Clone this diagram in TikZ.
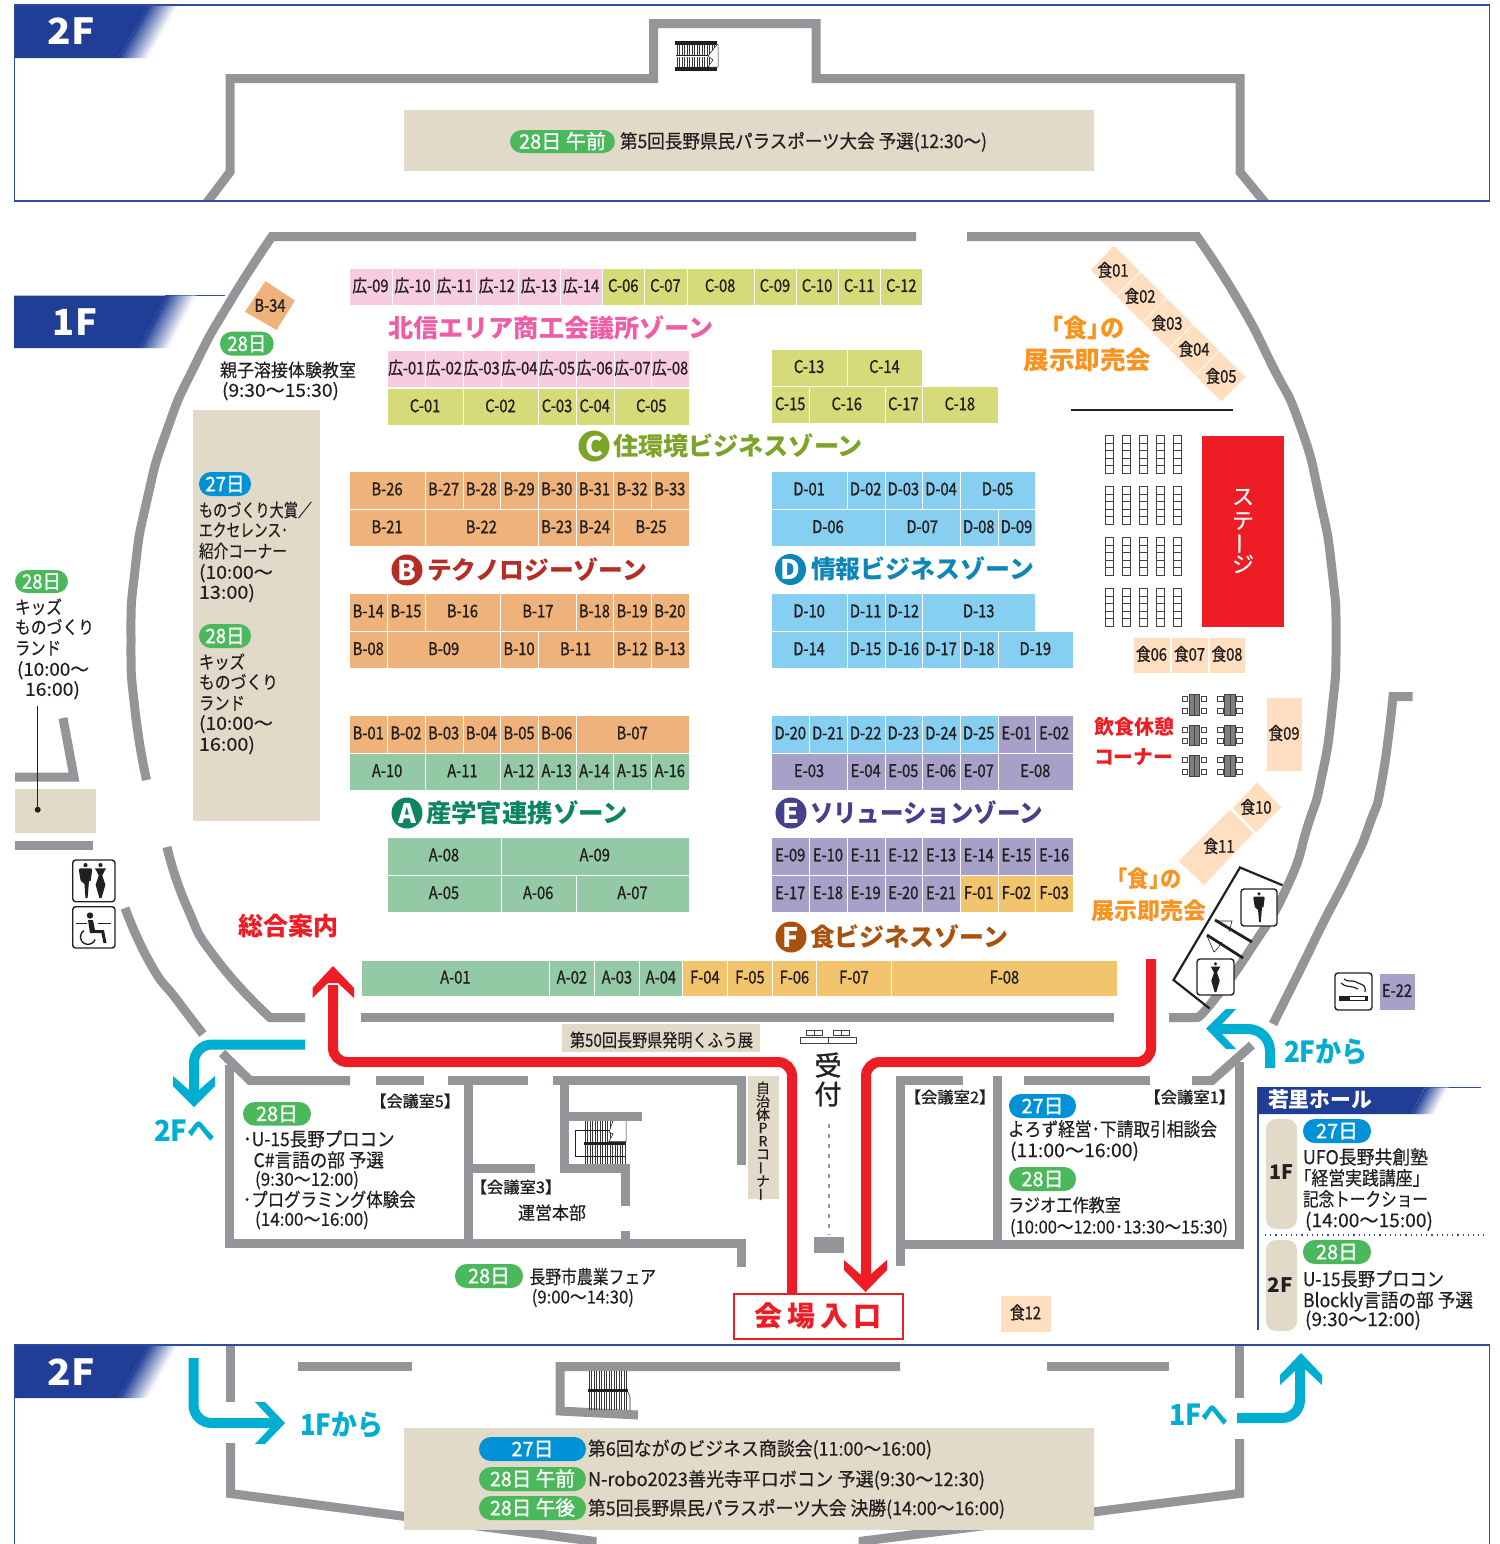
\documentclass[tikz,border=0pt]{standalone}
\usepackage{graphicx}
\usepackage{fontspec}
\setmainfont{Noto Sans CJK JP}[FakeBold=0.4]
\newfontfamily\jpm[FakeBold=1.1]{Noto Sans CJK JP}
\newfontfamily\jpr{Noto Sans CJK JP}
\newcommand\jpb{\jpr\bfseries}
\newcommand\jpz{\jpr\bfseries}
\usetikzlibrary{calc}
\definecolor{wallc}{HTML}{949599}
\definecolor{navy}{HTML}{213E97}
\definecolor{framec}{HTML}{2F4B9F}
\definecolor{redc}{HTML}{EE1C25}
\definecolor{cyanc}{HTML}{00AED1}
\definecolor{beige}{HTML}{E1DAC8}
\definecolor{cB}{HTML}{EFB27B}
\definecolor{cA}{HTML}{94C9A5}
\definecolor{cD}{HTML}{87CFF0}
\definecolor{cE}{HTML}{A7A1C9}
\definecolor{cF}{HTML}{F2C46D}
\definecolor{cC}{HTML}{D4DB78}
\definecolor{cP}{HTML}{F8CCE0}
\definecolor{cK}{HTML}{FFDFBF}
\definecolor{badgeG}{HTML}{4CB85C}
\definecolor{badgeB}{HTML}{0092D6}
\definecolor{ink}{HTML}{231F20}
\definecolor{zPink}{HTML}{EE5DA5}
\definecolor{zOrange}{HTML}{F7931E}
\definecolor{zC}{HTML}{7BA428}
\definecolor{zB}{HTML}{B52E25}
\definecolor{zD}{HTML}{0F86B8}
\definecolor{zA}{HTML}{0D8561}
\definecolor{zE}{HTML}{45408C}
\definecolor{zF}{HTML}{A9510F}
\newsavebox\fitb
\newcommand\FS[1]{\pgfmathsetmacro\szz{#1/2}\fontsize{\szz}{\szz}\selectfont}
\newcommand\fitw[2]{\sbox\fitb{#2}\pgfmathsetmacro\fsc{(#1)*0.5/\the\wd\fitb}\scalebox{\fsc}[1]{\usebox\fitb}}
% left text: x,y centre,width,size,text
\newcommand\TL[5]{\node[anchor=base west,inner sep=0pt,outer sep=0pt,text=ink] at (#1,{#2+0.36*#4+0.3}) {\fitw{#3}{\FS{#4}#5}};}
% booth rows
\tikzset{boothbox/.style={draw=white,line width=0.35pt},
  boothlab/.style={inner sep=0pt,outer sep=0pt,text=ink,font=\jpm},
  wall/.style={draw=wallc,line width=4.5pt},
  seat/.style={draw=ink!85,line width=0.45pt,fill=white},
  redline/.style={draw=redc,line width=5pt,rounded corners=7pt},
  cyanline/.style={draw=cyanc,line width=5pt,rounded corners=9pt},
  arcpts/.style={smooth,tension=1}}
\newcommand\BL[1]{\scalebox{0.84}[1]{\FS{17.5}\jpm #1}}
\newcommand\Row[6]{\xdef\curcol{0}%
 \foreach \sp/\lb in {#6}{%
  \pgfmathsetmacro\xa{#1-.2+#2*\curcol}\pgfmathsetmacro\xb{#1-.2+#2*(\curcol+\sp)}%
  \path[boothbox,fill=#5] (\xa,#3) rectangle (\xb,#4);
  \node[boothlab] at ({(\xa+\xb)/2-.4},{(#3+#4)/2-1}) {\BL{\lb}};
  \pgfmathsetmacro\tmpv{\curcol+\sp}\xdef\curcol{\tmpv}}}
\newcommand\Bx[6]{\path[boothbox,fill=#5] (#1,#2) rectangle (#3,#4);
  \node[boothlab] at ({(#1+#3)/2},{(#2+#4)/2-1}) {\BL{#6}};}
% four corner strip cell
\newcommand\Quad[8]{\path[boothbox,fill=cK] (#1,#2)--(#3,#4)--(#5,#6)--(#7,#8)--cycle;}
% badge x0,y0,x1,y1,colour,textwidth,text
\newcommand\Badge[7]{\fill[#5,rounded corners=5.9pt] (#1,#2) rectangle (#3,#4);
 \node[anchor=base,inner sep=0pt,text=white] at ({(#1+#3)/2},{(#2+#4)/2+7.2}) {\fitw{#6}{\FS{20}\jpm #7}};}
% floor tab: y top,y bot,x solid end at bottom,slant
\newcommand\Tab[4]{\fill[navy] (14,#1)--({#3+#4},#1)--(#3,#2)--(14,#2)--cycle;
 \foreach \i in {0,...,15}{\pgfmathsetmacro\mixv{100-\i*6.5}\pgfmathsetmacro\xl{#3+\i*1.9}
  \fill[navy!\mixv!white] (\xl,#2)--({\xl+#4},#1)--({\xl+#4+2.2},#1)--({\xl+2.2},#2)--cycle;}}
\newcommand\Zone[6]{\node[circle,fill=#1,inner sep=0pt,minimum size=15.5pt,text=white] at (#2,#3) {\FS{27}\jpb #4};
 \TL{#5}{#3}{#6}{25}{\textcolor{#1}{\jpz\zonetxt}}}
\newcommand\stairs[5]{\foreach \xx in {#1,#5,...,#2}{\draw[ink!90,line width=0.3pt] (\xx,#3)--(\xx,#4);}}
\newcommand\man[3]{\begin{scope}[shift={(#1,#2)},scale=#3]\fill[ink] (0,.06) circle (.06);
 \fill[ink] (-.16,.15)--(.16,.15)--(.19,.2)--(.15,.5)--(.1,.52)--(.06,1)--(0,1)--(-.03,.6)--(-.12,.52)--(-.14,.5)--(-.19,.2)--cycle;\end{scope}}
\newcommand\woman[3]{\begin{scope}[shift={(#1,#2)},scale=#3]\fill[ink] (0,.06) circle (.06);
 \fill[ink] (-.16,.15)--(.16,.15)--(.05,.35)--(.14,.62)--(.03,1)--(-.03,1)--(-.14,.62)--(-.05,.35)--cycle;\end{scope}}
\newcommand\iconbox[4]{\path[draw=ink,line width=.7pt,fill=white,rounded corners=1.5pt] (#1,#2) rectangle (#3,#4);}
\begin{document}
\begin{tikzpicture}[x=0.5pt,y=-0.5pt]
\useasboundingbox (0,0) rectangle (1500,1544);
\fill[white] (0,0) rectangle (1500,1544);
% ---------- top 2F
\begin{scope}
\clip (14,5) rectangle (1490,201);
\draw[wall] (205,205)--(230,172)--(230,78.5)--(653.5,78.5)--(653.5,23.5)--(816,23.5)--(816,78.5)--(1240,78.5)--(1240,172)--(1267,205);
\end{scope}
\Tab{5}{58}{118}{30}
\draw[framec,line width=.75pt] (14.4,5) rectangle (1489.7,200.8);
\node[inner sep=0pt,text=white] at (71,31) {\fitw{47}{\FS{36}\jpz 2F}};
\fill[beige] (404,110) rectangle (1094,171);
\Badge{510}{130}{615}{153}{badgeG}{87}{28日 午前}
\TL{620}{141}{367}{19}{第5回長野県民パラスポーツ大会 予選(12:30〜)}
% stairs top
\stairs{677}{716}{44}{55}{679.5}
\stairs{677}{716}{57}{67}{679.5}
\fill[ink] (675,41) rectangle (717,44.5);\fill[ink] (675,67) rectangle (717,70.5);
\draw[ink,line width=.4pt] (676,55.5)--(712,55.5);
\path[fill=white,draw=ink,line width=.25pt] (717,44.5)--(708,56)--(713,60)--(708,67)--(718,67)--(718,44.5)--cycle;
% ---------- 1F hall walls
\draw[wall] (916,236.5)--(272,236.5)--plot[arcpts] coordinates {(272,236.5)(231,300)(195,365)(167,430)(147,500)(135,570)(131,640)(135,710)(146.5,780)};
\draw[wall] (967,236.5)--(1197,236.5)--plot[arcpts] coordinates {(1197,236.5)(1238,300)(1272,365)(1300,425)(1320,500)(1332,570)(1336,640)(1332,710)(1321,780)(1308,825)(1287,887)(1250,950)(1213,1001)(1197,1017.5)}--(1169,1017.5);
\draw[wall] plot[arcpts] coordinates {(167,847)(187,907)(217,960)(270,1017.5)}--(305,1017.5);
\draw[wall] (361,1017.5)--(1114,1017.5);
% outer right wall
\draw[wall] (1412.5,696.5)--(1393,696.5)--plot[arcpts] coordinates {(1393,696.5)(1382,780)(1370,823)(1350,870)(1323,923)(1302,966)(1273,1024)};
% outer left walls
\draw[wall] (15,777)--(74,777)--(63,718);
\draw[wall] (15,845.5)--(93,845.5);
\draw[wall] plot[arcpts] coordinates {(125,908)(150,963)(177,1000)(203,1034)};
\fill[beige] (15,789) rectangle (96,833);
\draw[ink,line width=.5pt] (37.7,706)--(37.7,809.7);
\fill[ink] (37.7,809.7) circle (3);
% tab 1F
\draw[framec,line width=.75pt] (165,295.5)--(225,295.5);
\Tab{295.5}{348}{139}{27}
\node[inner sep=0pt,text=white] at (75,322) {\fitw{44}{\FS{36}\jpz 1F}};
% pink / C top rows
\Row{350}{42.13}{268}{305}{cP}{1/広-09,1/広-10,1/広-11,1/広-12,1/広-13,1/広-14}
\Row{602.8}{42.13}{268}{305}{cC}{1/C-06,1/C-07,1.6/C-08,1/C-09,1/C-10,1/C-11,1/C-12}
\Row{388}{37.7}{350}{387.5}{cP}{1/広-01,1/広-02,1/広-03,1/広-04,1/広-05,1/広-06,1/広-07,1/広-08}
\Row{388}{37.7}{388}{425.5}{cC}{2/C-01,2/C-02,1/C-03,1/C-04,2/C-05}
\Row{772}{37.7}{349}{386}{cC}{2/C-13,2/C-14}
\Row{772}{37.7}{386}{423.5}{cC}{1/C-15,2/C-16,1/C-17,2/C-18}
% B / A
\Row{350}{37.7}{471}{509}{cB}{2/B-26,1/B-27,1/B-28,1/B-29,1/B-30,1/B-31,1/B-32,1/B-33}
\Row{350}{37.7}{509}{546.5}{cB}{2/B-21,3/B-22,1/B-23,1/B-24,2/B-25}
\Row{350}{37.7}{593}{631}{cB}{1/B-14,1/B-15,2/B-16,2/B-17,1/B-18,1/B-19,1/B-20}
\Row{350}{37.7}{631}{668.5}{cB}{1/B-08,3/B-09,1/B-10,2/B-11,1/B-12,1/B-13}
\Row{350}{37.7}{715}{753}{cB}{1/B-01,1/B-02,1/B-03,1/B-04,1/B-05,1/B-06,3/B-07}
\Row{350}{37.7}{753}{790.5}{cA}{2/A-10,2/A-11,1/A-12,1/A-13,1/A-14,1/A-15,1/A-16}
\Row{388}{37.7}{837}{875}{cA}{3/A-08,5/A-09}
\Row{388}{37.7}{875}{912.5}{cA}{3/A-05,2/A-06,3/A-07}
% D / E / F
\Row{772}{37.7}{471}{509}{cD}{2/D-01,1/D-02,1/D-03,1/D-04,2/D-05}
\Row{772}{37.7}{509}{546.5}{cD}{3/D-06,2/D-07,1/D-08,1/D-09}
\Row{772}{37.7}{593}{631}{cD}{2/D-10,1/D-11,1/D-12,3/D-13}
\Row{772}{37.7}{631}{668.5}{cD}{2/D-14,1/D-15,1/D-16,1/D-17,1/D-18,2/D-19}
\Row{772}{37.7}{715}{753}{cD}{1/D-20,1/D-21,1/D-22,1/D-23,1/D-24,1/D-25}
\Row{998.2}{37.7}{715}{753}{cE}{1/E-01,1/E-02}
\Row{772}{37.7}{753}{790.5}{cE}{2/E-03,1/E-04,1/E-05,1/E-06,1/E-07,2/E-08}
\Row{772}{37.7}{837}{875}{cE}{1/E-09,1/E-10,1/E-11,1/E-12,1/E-13,1/E-14,1/E-15,1/E-16}
\Row{772}{37.7}{875}{912.5}{cE}{1/E-17,1/E-18,1/E-19,1/E-20,1/E-21}
\Row{960.5}{37.7}{875}{912.5}{cF}{1/F-01,1/F-02,1/F-03}
\Row{362}{1}{960}{996.5}{cA}{188/A-01,45/A-02,45/A-03,43/A-04}
\Row{683}{1}{960}{996.5}{cF}{45/F-04,45/F-05,44/F-06,75/F-07,226/F-08}
% B-34
\path[fill=cB] (265.5,281)--(295,300.7)--(276.5,330)--(245,311.7)--cycle;
\node[boothlab] at (270,305.5) {\BL{B-34}};
% food strip
\foreach \i/\lx/\ly/\lb in {0/1113/270/食01,1/1140/296/食02,2/1167/323/食03,3/1194/349/食04,4/1221/376/食05}{
 \pgfmathsetmacro\ta{\i/5}\pgfmathsetmacro\tb{(\i+1)/5}
 \path[boothbox,fill=cK] ($(1114,245)!\ta!(1246,377)$)--($(1114,245)!\tb!(1246,377)$)--($(1090,270)!\tb!(1221,402)$)--($(1090,270)!\ta!(1221,402)$)--cycle;
 \node[boothlab] at (\lx,\ly) {\BL{\lb}};}
\Quad{1257}{782}{1282}{807}{1256}{833}{1232}{808}
\Quad{1230}{809}{1254}{833}{1204}{886}{1178}{861}
\node[boothlab] at (1256,807) {\BL{食10}};
\node[boothlab] at (1219,846) {\BL{食11}};
\Bx{1133}{637}{1170}{673}{cK}{食06}
\Bx{1171}{637}{1208}{673}{cK}{食07}
\Bx{1209}{637}{1245}{673}{cK}{食08}
\Bx{1266}{697}{1302}{771}{cK}{食09}
\Bx{1000}{1295}{1051}{1332}{cK}{食12}
\Bx{1379}{973}{1415}{1010}{cE}{E-22}
% zone titles
\def\zonetxt{テクノロジーゾーン}\Zone{zB}{407}{570}{B}{427}{220}
\def\zonetxt{情報ビジネスゾーン}\Zone{zD}{790.5}{569.5}{D}{811}{223}
\def\zonetxt{住環境ビジネスゾーン}\Zone{zC}{594}{446}{C}{613}{250}
\def\zonetxt{産学官連携ゾーン}\Zone{zA}{407}{813}{A}{426}{202}
\def\zonetxt{ソリューションゾーン}\Zone{zE}{791}{813}{E}{810}{233}
\def\zonetxt{食ビジネスゾーン}\Zone{zF}{791}{937}{F}{810}{198}
\TL{388.5}{328}{325}{25}{\textcolor{zPink}{\jpz 北信エリア商工会議所ゾーン}}
\TL{1050}{328.5}{75}{25}{\textcolor{zOrange}{\jpz\hspace{-.45em}「食」\hspace{-.45em}の}}
\TL{1023.5}{360.5}{128}{25}{\textcolor{zOrange}{\jpz 展示即売会}}
\TL{1116}{878.5}{66}{23}{\textcolor{zOrange}{\jpz\hspace{-.45em}「食」\hspace{-.45em}の}}
\TL{1091.5}{910.5}{115}{23}{\textcolor{zOrange}{\jpz 展示即売会}}
\TL{1094}{726.5}{80}{20}{\textcolor{redc}{\jpb 飲食休憩}}
\TL{1094}{756.5}{79}{20}{\textcolor{redc}{\jpb コーナー}}
\TL{238}{926.5}{100}{25}{\textcolor{redc}{\jpb 総合案内}}
% stage area
\draw[ink,line width=1pt] (1071,410)--(1233,410);
\foreach \xx in {1105,1122.2,1139.2,1156.2,1173.2}{\foreach \yy in {435.5,486.5,537.5,588.5}{\foreach \k in {0,...,4}{
 \path[seat] (\xx,{\yy+\k*7.6}) rectangle ({\xx+8.3},{\yy+\k*7.6+7.6});}}}
\fill[redc] (1202,436) rectangle (1284,627);
\foreach \c/\yy/\rr in {ス/497/0,テ/521/0,ー/543.5/90,ジ/564/0}{
 \node[inner sep=0pt,text=white,rotate=\rr] at (1243,\yy) {\FS{22}\c};}
% tables
\foreach \xx in {0,35.7}{\foreach \yy in {0,30.5,60.7}{
 \path[draw=ink!85,line width=.4pt,fill=wallc!85!black] ({1189+\xx},{694.7+\yy}) rectangle ({1199.7+\xx},{715.3+\yy});
 \draw[ink!85,line width=.4pt] ({1194.4+\xx},{694.7+\yy})--({1194.4+\xx},{715.3+\yy});
 \foreach \cy in {696.7,708.3}{
 \path[seat] ({1182+\xx},{\cy+\yy}) rectangle ({1187.7+\xx},{\cy+\yy+5});
 \path[seat] ({1201+\xx},{\cy+\yy}) rectangle ({1206.7+\xx},{\cy+\yy+5});}}}
% right restroom
\draw[ink,line width=1.1pt,line cap=round] (1282,885)--(1240,867.5)--(1173.5,980)--(1209,1008);
\draw[ink,line width=1.4pt] (1215,920)--(1252,942);
\draw[ink,line width=1.4pt] (1207,935)--(1243,958);
\draw[ink,line width=.3pt] (1217,921)--(1232,921)--(1229,932);
\draw[ink,line width=.3pt] (1207,936)--(1214,952) .. controls (1217,950) and (1220,945) .. (1222,942);
\iconbox{1241}{889}{1277}{926}
\man{1259}{892}{30}
\iconbox{1197}{959}{1234}{995}
\woman{1215.5}{962}{30}
% left icons
\iconbox{72.7}{860}{115}{901.7}
\man{85.5}{863}{35}
\woman{100.5}{863}{35}
\iconbox{72.7}{906.7}{115}{948}
\fill[ink] (90,915.5) circle (3.2);
\draw[ink,line width=.5pt] (76,923.5)--(87,923.5) (98,923.5)--(111,923.5);
\fill[ink] (88,920)--(93,920)--(95,930)--(104,930)--(106.5,943)--(103.5,943)--(101.5,933)--(90,933)--cycle;
\draw[ink,line width=.7pt] (84,930.5) arc[start angle=238,end angle=20,radius=7.5];
% smoking
\iconbox{1335}{973}{1372}{1010}
\fill[ink] (1339,996) rectangle (1349,1000.5);
\draw[ink,line width=.4pt] (1349,996) rectangle (1365,1000.5);
\fill[ink] (1366,996) rectangle (1367.5,1000.5);
\draw[ink,line width=.6pt] (1344,979) .. controls (1348,983) and (1354,979) .. (1358,983) .. controls (1363,985) and (1366,985) .. (1365,992);
\draw[ink,line width=.6pt] (1341,983) .. controls (1345,988) and (1352,985) .. (1358,989);
% stairs and rooms lower left
\draw[wall] (222,1053)--(250,1080.5)--(350,1080.5);
\draw[wall] (229.5,1065)--(229.5,1243.5)--(741.5,1243.5)--(741.5,1267);
\draw[wall] (375.5,1080.5)--(423.6,1080.5);
\draw[wall] (448,1080.5)--(527.7,1080.5);
\draw[wall] (553,1080.5)--(741.5,1080.5)--(741.5,1165);
\draw[wall] (468.5,1080.5)--(468.5,1243.5);
\draw[wall] (468.5,1168.5)--(535,1168.5);
\draw[wall] (564,1080.5)--(564,1168.5)--(625.5,1168.5)--(625.5,1205.7);
\draw[wall] (625.5,1231)--(625.5,1243.5);
\draw[wall] (564,1116)--(641.5,1116);
\stairs{585}{625}{1121}{1164}{587.5}
\path[fill=white,draw=ink,line width=.25pt] (613,1121)--(609,1132)--(613,1134)--(609,1141.5)--(626,1141.5)--(626,1121);
\fill[ink] (584,1141.5) rectangle (625,1145);
\draw[ink,line width=.4pt] (609,1130)--(575,1130)--(575,1156)--(625,1156);
% right rooms
\draw[wall] (963,1080.5)--(900.5,1080.5)--(900.5,1265.7);
\draw[wall] (900.5,1244)--(1239.5,1244)--(1239.5,1062);
\draw[wall] (997,1076)--(997,1244);
\draw[wall] (1024,1080.5)--(1150,1080.5);
\draw[wall] (1192,1080.5)--(1212,1080.5)--(1252,1045);
% red routes
\draw[redline] (792,1294)--(792,1062)--(333,1062)--(333,985);
\fill[redc] (333,966)--(354,988)--(354,998)--(338,983)--(328,983)--(312.5,998)--(312.5,988)--cycle;
\draw[redline] (1151,959)--(1151,1062)--(866,1062)--(866,1275);
\fill[redc] (865.5,1292)--(844,1270)--(844,1260)--(860,1274)--(871,1274)--(887,1260)--(887,1270)--cycle;
\path[draw=redc,line width=1pt,fill=white] (734,1294) rectangle (903,1339);
\node[inner sep=0pt,text=redc] at (818,1316) {\FS{28}\jpb 会\hspace{2.5pt}場\hspace{2.5pt}入\hspace{2.5pt}口};
% cyan routes
\draw[cyanline] (305,1044.5)--(194,1044.5)--(194,1092);
\fill[cyanc] (194,1107)--(173,1086)--(173,1076)--(189,1090)--(199,1090)--(215,1076)--(215,1086)--cycle;
\TL{154}{1131}{61}{29}{\textcolor{cyanc}{\jpb 2Fへ}}
\draw[cyanline,rounded corners=11pt] (1270,1068)--(1270,1029)--(1220,1029);
\fill[cyanc] (1206,1028.5)--(1226,1009)--(1236,1009)--(1222,1024)--(1222,1034)--(1236,1049)--(1226,1049)--cycle;
\TL{1284}{1052}{84}{29}{\textcolor{cyanc}{\jpb 2Fから}}
% hall beige and text
\fill[beige] (193,410) rectangle (320,821);
\Badge{199}{472}{251}{496}{badgeB}{39}{27日}
\TL{199}{510}{113}{18}{ものづくり大賞／}
\TL{199}{530}{89}{18}{エクセレンス･}
\TL{199}{551}{88}{18}{紹介コーナー}
\TL{199}{572}{74}{18}{(10:00〜}
\TL{199}{592}{56}{18}{13:00)}
\Badge{199}{624}{251}{648}{badgeG}{39}{28日}
\TL{199}{662}{46}{18}{キッズ}
\TL{199}{682}{79}{18}{ものづくり}
\TL{199}{703}{46}{18}{ランド}
\TL{199}{723}{74}{18}{(10:00〜}
\TL{199}{744}{56}{18}{16:00)}
\Badge{15}{570}{68}{593}{badgeG}{39}{28日}
\TL{15}{607}{47}{18}{キッズ}
\TL{15}{627}{79}{18}{ものづくり}
\TL{15}{648}{46}{18}{ランド}
\TL{17}{669}{72}{18}{(10:00〜}
\TL{25}{689}{55}{18}{16:00)}
\Badge{220}{331.7}{273.7}{355.7}{badgeG}{39}{28日}
\TL{220}{370}{136}{18}{親子溶接体験教室}
\TL{222}{390}{117}{18}{(9:30〜15:30)}
% exhibit strip
\fill[beige] (562,1024) rectangle (759.5,1052);
\TL{570}{1040}{183}{18}{第50回長野県発明くふう展}
\fill[beige] (748,1076) rectangle (778.5,1199);
\foreach \c/\rr [count=\i from 0] in {自/0,治/0,体/0,P/0,R/0,コ/0,ー/90,ナ/0,ー/90}{
 \node[inner sep=0pt,text=ink,rotate=\rr] at (763,{1088+13.3*\i}) {\FS{14}\c};}
% reception
\node[inner sep=0pt,text=ink] at (828,1065) {\FS{27}\jpm 受};
\node[inner sep=0pt,text=ink] at (828,1094) {\FS{27}\jpm 付};
\foreach \xx in {806.5,833.5}{\path[seat] (\xx,1030) rectangle ({\xx+8},1035);\path[seat] ({\xx+8},1030) rectangle ({\xx+16},1035);}
\path[seat] (800.5,1037) rectangle (828,1043);\path[seat] (828,1037) rectangle (856,1043);
\draw[wallc,line width=1pt,dash pattern=on 2.2pt off 2.8pt] (828.5,1124)--(828.5,1235);
\fill[wallc] (813.5,1237) rectangle (844,1253);
% room labels
\TL{377.7}{1101}{75}{16}{\jpm\hspace{-.45em}【会議室5】\hspace{-.45em}}
\TL{478}{1187}{76}{16}{\jpm\hspace{-.45em}【会議室3】\hspace{-.45em}}
\TL{912}{1097}{76}{16}{\jpm\hspace{-.45em}【会議室2】\hspace{-.45em}}
\TL{1151.7}{1097}{76}{16}{\jpm\hspace{-.45em}【会議室1】\hspace{-.45em}}
\Badge{243}{1102}{311}{1125.6}{badgeG}{42}{28日}
\TL{243}{1139}{151.6}{19}{･U-15長野プロコン}
\TL{253.6}{1160}{130.4}{19}{C\#言語の部 予選}
\TL{255}{1179}{104}{18}{(9:30〜12:00)}
\TL{243}{1199.5}{172.6}{19}{･プログラミング体験会}
\TL{255}{1219}{114}{18}{(14:00〜16:00)}
\TL{518}{1212.7}{68}{18}{運営本部}
\Badge{455}{1264}{523}{1288}{badgeG}{42}{28日}
\TL{529.5}{1276.7}{126.5}{19}{長野市農業フェア}
\TL{531.7}{1296.7}{102.3}{18}{(9:00〜14:30)}
\Badge{1009}{1094}{1076}{1118}{badgeB}{42}{27日}
\TL{1008}{1129}{209}{19}{よろず経営･下請取引相談会}
\TL{1010}{1150}{129}{19}{(11:00〜16:00)}
\Badge{1009}{1167}{1076}{1191}{badgeG}{42}{28日}
\TL{1008}{1205}{113}{18}{ラジオ工作教室}
\TL{1010}{1226.7}{218}{18}{(10:00〜12:00･13:30〜15:30)}
% wakasato hall
\draw[framec,line width=.75pt] (1258,1330)--(1258,1087.3)--(1481,1087.3);
\fill[navy] (1258,1087)--(1425,1087)--(1411,1114)--(1258,1114)--cycle;
\foreach \i in {0,...,13}{\pgfmathsetmacro\mixv{100-\i*7.5}\pgfmathsetmacro\xl{1411+\i*1.7}
 \fill[navy!\mixv!white] (\xl,1114)--({\xl+14},1087.6)--({\xl+16},1087.6)--({\xl+2},1114)--cycle;}
\TL{1268}{1100}{104}{21}{\textcolor{white}{\jpb 若里ホール}}
\fill[beige,rounded corners=5pt] (1266,1119) rectangle (1297,1229);
\fill[beige,rounded corners=5pt] (1266,1240) rectangle (1297,1331);
\node[inner sep=0pt,text=ink] at (1281,1172) {\fitw{24}{\FS{20}\jpb 1F}};
\node[inner sep=0pt,text=ink] at (1280,1285) {\fitw{25}{\FS{20}\jpb 2F}};
\Badge{1303}{1119}{1371}{1143}{badgeB}{42}{27日}
\TL{1303}{1157}{125}{19}{UFO長野共創塾}
\TL{1303}{1178}{118}{19}{\hspace{-.5em}「経営実践講座」\hspace{-.5em}}
\TL{1303}{1199}{125}{19}{記念トークショー}
\TL{1305}{1220}{128}{19}{(14:00〜15:00)}
\draw[framec,line width=.6pt,dotted] (1265,1235)--(1484,1235);
\Badge{1303}{1240}{1371}{1264}{badgeG}{42}{28日}
\TL{1303}{1279}{141}{19}{U-15長野プロコン}
\TL{1303}{1300}{170}{19}{Blockly言語の部 予選}
\TL{1305}{1319}{116}{19}{(9:30〜12:00)}
% ---------- bottom 2F
\begin{scope}
\clip (14,1345) rectangle (1490,1544);
\draw[wall] (230.5,1345)--(230.5,1402);
\draw[wall] (230.5,1443)--(230.5,1493.5)--(592,1541)--(592,1560);
\draw[wall] (1239.5,1345)--(1239.5,1398);
\draw[wall] (1239.5,1439)--(1239.5,1493.5)--(863,1541)--(863,1560);
\draw[wall] (298,1366.5)--(412,1366.5);
\draw[wall] (900,1366.5)--(560,1366.5)--(560,1411)--(638,1415);
\draw[wall] (1047,1366.5)--(1169,1366.5);
\end{scope}
\Tab{1345}{1398}{118}{30}
\draw[framec,line width=.75pt] (14.4,1544)--(14.4,1345)--(1489.7,1345)--(1489.7,1544);
\node[inner sep=0pt,text=white] at (71,1372) {\fitw{47}{\FS{36}\jpz 2F}};
\stairs{589}{628}{1371}{1410}{591.5}
\fill[ink] (588,1388.5) rectangle (628,1392);
\draw[ink,line width=.3pt] (628,1392)--(630,1397)--(630,1410);
\fill[beige] (404,1428) rectangle (1094,1530);
\Badge{479}{1437}{586}{1461}{badgeB}{42}{27日}
\Badge{479}{1467}{586}{1491}{badgeG}{85}{28日 午前}
\Badge{479}{1496}{586}{1520}{badgeG}{85}{28日 午後}
\TL{588}{1448.5}{344}{19}{第6回ながのビジネス商談会(11:00〜16:00)}
\TL{588}{1479}{397}{19}{N-robo2023善光寺平ロボコン 予選(9:30〜12:30)}
\TL{588}{1508}{417}{19}{第5回長野県民パラスポーツ大会 決勝(14:00〜16:00)}
\draw[cyanline] (193.5,1358)--(193.5,1423)--(270,1423);
\fill[cyanc] (285,1423)--(265,1402)--(255,1402)--(270,1418)--(270,1428)--(255,1444)--(265,1444)--cycle;
\TL{300}{1425}{83}{29}{\textcolor{cyanc}{\jpb 1Fから}}
\draw[cyanline] (1237,1418)--(1300,1418)--(1300,1370);
\fill[cyanc] (1301,1353)--(1322,1375)--(1322,1385)--(1306,1370)--(1296,1370)--(1280,1385)--(1280,1375)--cycle;
\TL{1169}{1414.5}{59}{29}{\textcolor{cyanc}{\jpb 1Fへ}}
\end{tikzpicture}
\end{document}
